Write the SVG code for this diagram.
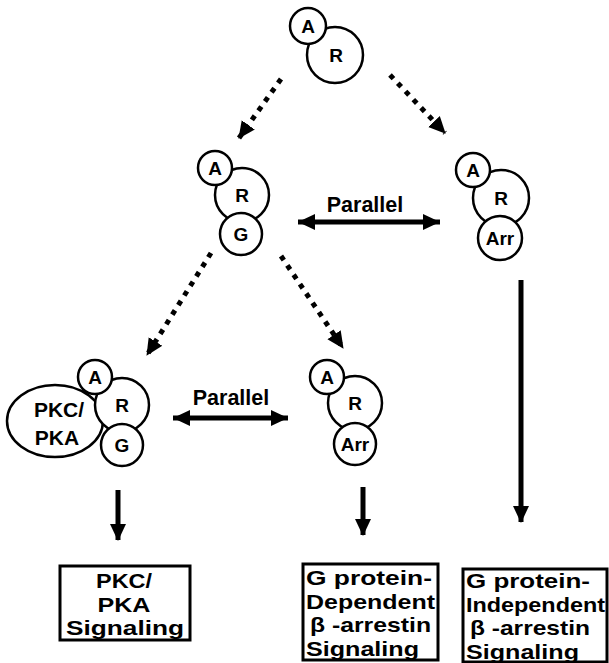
<svg xmlns="http://www.w3.org/2000/svg" width="609" height="663" viewBox="0 0 609 663">
<style>
.c{fill:#fff;stroke:#000;stroke-width:2.5}
.t{font-family:"Liberation Sans",Arial,sans-serif;font-weight:bold;font-size:19px;text-anchor:middle;fill:#000}
.p{font-family:"Liberation Sans",Arial,sans-serif;font-weight:bold;font-size:21.5px;text-anchor:middle;fill:#000}
.bt{font-family:"Liberation Sans",Arial,sans-serif;font-weight:bold;font-size:21px;fill:#000}
.ctr{text-anchor:middle}
.box{fill:#fff;stroke:#000;stroke-width:3}
.dot{stroke:#000;stroke-width:5;stroke-dasharray:5 6.3;fill:none}
.sol{stroke:#000;stroke-width:5;fill:none}
</style>
<defs>
<marker id="ah" markerUnits="userSpaceOnUse" markerWidth="18" markerHeight="18" viewBox="0 0 18 18" refX="16" refY="9" orient="auto">
<path d="M0,1 L17,9 L0,17 Z" fill="#000"/>
</marker>
<marker id="ahs" markerUnits="userSpaceOnUse" markerWidth="18" markerHeight="18" viewBox="0 0 18 18" refX="17" refY="9" orient="auto-start-reverse">
<path d="M0,1 L17,9 L0,17 Z" fill="#000"/>
</marker>
</defs>
<g id="connectors">
<line class="dot" x1="281" y1="79" x2="239" y2="138" marker-end="url(#ah)"/>
<line class="dot" x1="390" y1="75" x2="445" y2="133" marker-end="url(#ah)"/>
<line class="dot" x1="211" y1="253" x2="147" y2="355" marker-end="url(#ah)"/>
<line class="dot" x1="281" y1="256" x2="343" y2="348" marker-end="url(#ah)"/>
<line class="sol" x1="521" y1="280" x2="521" y2="522" marker-end="url(#ah)"/>
<line class="sol" x1="118" y1="490" x2="118" y2="540" marker-end="url(#ah)"/>
<line class="sol" x1="363" y1="487" x2="363" y2="535" marker-end="url(#ah)"/>
<line class="sol" x1="298" y1="222" x2="440" y2="222" marker-start="url(#ahs)" marker-end="url(#ahs)"/>
<line class="sol" x1="173" y1="418" x2="288" y2="418" marker-start="url(#ahs)" marker-end="url(#ahs)"/>
<text class="p" x="365" y="212">Parallel</text>
<text class="p" x="231" y="405">Parallel</text>
</g>
<g id="node-top">
<circle class="c" cx="335" cy="55" r="28"/>
<circle class="c" cx="308" cy="26" r="18"/>
<text class="t" x="308" y="33">A</text>
<text class="t" x="336" y="62">R</text>
</g>
<g id="node-arg">
<circle class="c" cx="242" cy="195" r="27"/>
<circle class="c" cx="215" cy="168" r="17"/>
<circle class="c" cx="241" cy="234" r="21"/>
<text class="t" x="215" y="175">A</text>
<text class="t" x="242" y="202">R</text>
<text class="t" x="241" y="241">G</text>
</g>
<g id="node-ararr-right">
<circle class="c" cx="501" cy="198" r="28"/>
<circle class="c" cx="473" cy="170" r="17"/>
<circle class="c" cx="500" cy="238" r="22"/>
<text class="t" x="473" y="177">A</text>
<text class="t" x="501" y="205">R</text>
<text class="t" x="500" y="245">Arr</text>
</g>
<g id="node-pkc">
<ellipse class="c" cx="55" cy="421" rx="48" ry="36"/>
<circle class="c" cx="122" cy="405" r="27"/>
<circle class="c" cx="95" cy="377" r="17"/>
<circle class="c" cx="122" cy="445" r="21"/>
<text class="t" x="59" y="417" style="font-size:21px">PKC/</text>
<text class="t" x="57" y="445" style="font-size:21px">PKA</text>
<text class="t" x="95" y="384">A</text>
<text class="t" x="122" y="412">R</text>
<text class="t" x="122" y="452">G</text>
</g>
<g id="node-ararr-mid">
<circle class="c" cx="355" cy="403" r="27"/>
<circle class="c" cx="327" cy="377" r="17"/>
<circle class="c" cx="355" cy="444" r="21"/>
<text class="t" x="327" y="384">A</text>
<text class="t" x="355" y="410">R</text>
<text class="t" x="355" y="451">Arr</text>
</g>
<g id="box-pkc">
<rect class="box" x="60" y="566" width="130" height="74"/>
<text class="bt ctr" x="124" y="588" textLength="56" lengthAdjust="spacingAndGlyphs">PKC/</text>
<text class="bt ctr" x="124" y="611.5" textLength="53" lengthAdjust="spacingAndGlyphs">PKA</text>
<text class="bt ctr" x="125" y="635" textLength="118" lengthAdjust="spacingAndGlyphs">Signaling</text>
</g>
<g id="box-dep">
<rect class="box" x="303" y="564" width="135" height="96"/>
<text class="bt" x="306" y="585" textLength="126" lengthAdjust="spacingAndGlyphs">G protein-</text>
<text class="bt" x="306" y="608.5" textLength="129" lengthAdjust="spacingAndGlyphs">Dependent</text>
<text class="bt" x="310" y="632" textLength="121" lengthAdjust="spacingAndGlyphs">β -arrestin</text>
<text class="bt" x="306" y="655.5" textLength="113" lengthAdjust="spacingAndGlyphs">Signaling</text>
</g>
<g id="box-indep">
<rect class="box" x="463" y="569" width="144" height="93"/>
<text class="bt" x="466" y="588" textLength="124" lengthAdjust="spacingAndGlyphs">G protein-</text>
<text class="bt" x="466" y="611.5" textLength="139" lengthAdjust="spacingAndGlyphs">Independent</text>
<text class="bt" x="470" y="635" textLength="120" lengthAdjust="spacingAndGlyphs">β -arrestin</text>
<text class="bt" x="466" y="658.5" textLength="113" lengthAdjust="spacingAndGlyphs">Signaling</text>
</g>
</svg>
